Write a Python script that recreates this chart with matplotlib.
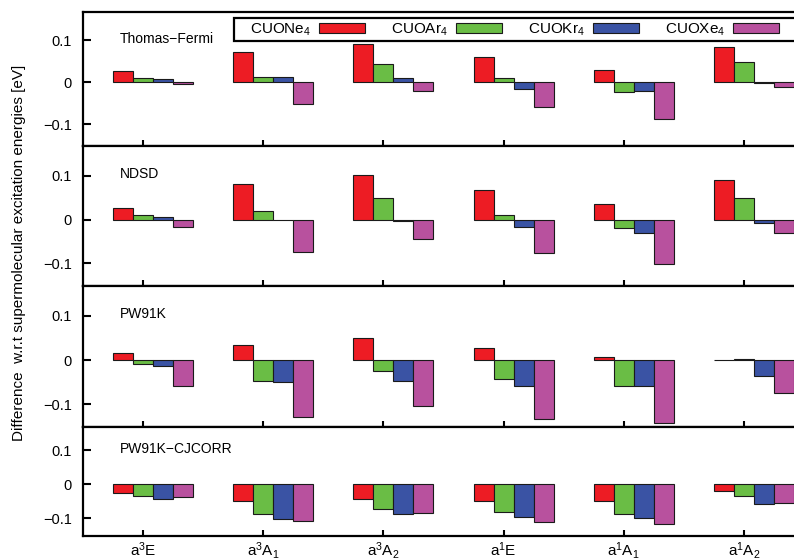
import matplotlib
matplotlib.use('Agg')
import matplotlib.pyplot as plt
import numpy as np
from matplotlib.patches import Patch, Rectangle
from matplotlib.transforms import blended_transform_factory

plt.rcParams['font.family'] = ['Liberation Sans', 'DejaVu Sans']
plt.rcParams['mathtext.fontset'] = 'custom'
plt.rcParams['mathtext.rm'] = 'Liberation Sans'
plt.rcParams['mathtext.it'] = 'Liberation Sans:italic'
plt.rcParams['mathtext.bf'] = 'Liberation Sans:bold'

# ---------------- data ----------------
states = [r'a$^{3}$E', r'a$^{3}$A$_{1}$', r'a$^{3}$A$_{2}$',
          r'a$^{1}$E', r'a$^{1}$A$_{1}$', r'a$^{1}$A$_{2}$']
complexes = [r'CUONe$_4$', r'CUOAr$_4$', r'CUOKr$_4$', r'CUOXe$_4$']
methods = ['Thomas\u2212Fermi', 'NDSD', 'PW91K', 'PW91K\u2212CJCORR']

tf_ne = [0.026, 0.072, 0.092, 0.060, 0.030, 0.084]
tf_ar = [0.010, 0.013, 0.045, 0.011, -0.024, 0.048]
tf_kr = [0.009, 0.013, 0.011, -0.015, -0.020, -0.001]
tf_xe = [-0.005, -0.051, -0.020, -0.059, -0.088, -0.012]

ndsd_ne = [0.026, 0.081, 0.102, 0.067, 0.035, 0.091]
ndsd_ar = [0.010, 0.020, 0.050, 0.010, -0.020, 0.050]
ndsd_kr = [0.006, -0.001, -0.004, -0.017, -0.031, -0.008]
ndsd_xe = [-0.017, -0.074, -0.044, -0.077, -0.101, -0.030]

pw_ne = [0.015, 0.035, 0.051, 0.027, 0.007, 0.001]
pw_ar = [-0.010, -0.047, -0.024, -0.042, -0.060, 0.003]
pw_kr = [-0.014, -0.051, -0.047, -0.059, -0.060, -0.037]
pw_xe = [-0.060, -0.130, -0.105, -0.133, -0.142, -0.074]

cj_ne = [-0.027, -0.050, -0.043, -0.048, -0.050, -0.021]
cj_ar = [-0.034, -0.087, -0.072, -0.082, -0.086, -0.036]
cj_kr = [-0.043, -0.101, -0.087, -0.095, -0.099, -0.057]
cj_xe = [-0.037, -0.108, -0.084, -0.111, -0.118, -0.055]

panel_data = [
    [tf_ne, tf_ar, tf_kr, tf_xe],
    [ndsd_ne, ndsd_ar, ndsd_kr, ndsd_xe],
    [pw_ne, pw_ar, pw_kr, pw_xe],
    [cj_ne, cj_ar, cj_kr, cj_xe],
]

yticks = [-0.1, 0, 0.1]
ytick_labels = ['\u22120.1', '0', '0.1']

# ---------------- style ----------------
colors = ['#ED1C24', '#6ABD45', '#3A53A4', '#B8519E']
W, H = 794, 560
fig = plt.figure(figsize=(W / 100, H / 100), dpi=100)

# panel pixel extents (top, bottom)
panels_px = [(12, 146), (146, 286), (286, 427), (427, 536)]
left_px, right_px = 83, 804

bar_w = 0.1665
offsets = np.array([-1, 0, 1, 2]) * bar_w
x = np.arange(len(states))
fs = 10

axes = []
for i, (top, bot) in enumerate(panels_px):
    ax = fig.add_axes([left_px / W, 1 - bot / H, (right_px - left_px) / W, (bot - top) / H])
    axes.append(ax)
    for j, vals in enumerate(panel_data[i]):
        ax.bar(x + offsets[j], vals, width=bar_w, color=colors[j],
               edgecolor='#1a1a1a', linewidth=0.8, zorder=2)
    ax.set_xlim(-0.5, 5.5)
    ax.set_ylim(-0.152, 0.168)
    ax.set_yticks(yticks)
    ax.set_yticklabels(ytick_labels, fontsize=10.5)
    ax.set_xticks(x)
    if i == len(panels_px) - 1:
        ax.set_xticklabels(states, fontsize=11)
    else:
        ax.set_xticklabels([])
    ax.tick_params(axis='y', direction='in', length=6, width=1.5, pad=8)
    ax.tick_params(axis='x', direction='in', length=4.5, width=1.5, pad=3)
    for s in ax.spines.values():
        s.set_linewidth(1.6)
    tr = blended_transform_factory(ax.transAxes, ax.transData)
    ax.text(0.051, 0.104, methods[i], transform=tr, fontsize=fs,
            ha='left', va='center')

# legend in top panel
ax0 = axes[0]
handles = [Patch(facecolor=c, edgecolor='#1a1a1a', linewidth=0.8) for c in colors]
ax0.add_patch(Rectangle((0.2094, 0.7836), 0.85, 0.955 - 0.7836,
                        transform=ax0.transAxes, facecolor='white',
                        edgecolor='black', linewidth=1.6, clip_on=False, zorder=4))
leg = ax0.legend(handles, complexes, ncol=4, loc='center left',
                 bbox_to_anchor=(0.2316, 0.869), borderaxespad=0, borderpad=0,
                 frameon=False, markerfirst=False, handlelength=3.0,
                 handleheight=0.55, handletextpad=0.5, columnspacing=1.75,
                 fontsize=11)
leg.set_zorder(5)

fig.text(19 / W, 1 - 253 / H,
         'Difference  w.r.t supermolecular excitation energies [eV]',
         rotation=90, ha='center', va='center', fontsize=11)

fig.savefig('out.png', dpi=100)
